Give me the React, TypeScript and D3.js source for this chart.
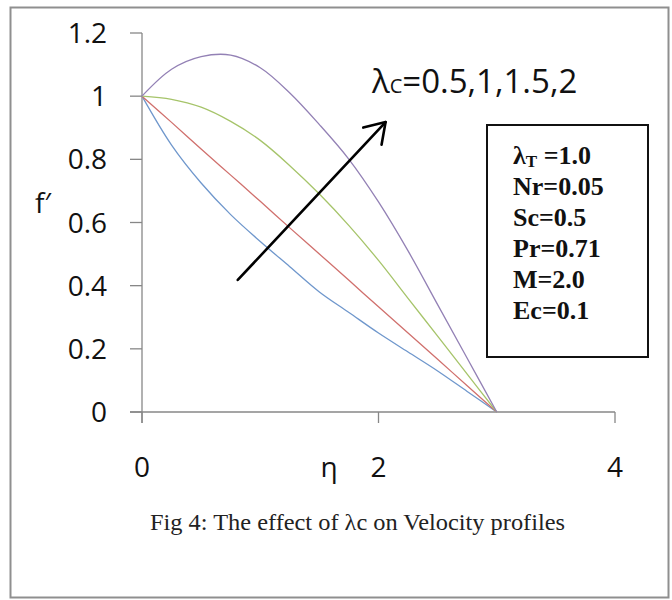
import React from "react";
import * as d3 from "d3";

// η values (shared by all series)
const eta = [0, 0.25, 0.5, 0.75, 1.0, 1.25, 1.5, 1.75, 2.0, 2.25, 2.5, 2.75, 3.0];

// f' for λc = 0.5, 1, 1.5, 2
const fLc05 = [1, 0.845, 0.725, 0.625, 0.54, 0.46, 0.38, 0.315, 0.25, 0.19, 0.13, 0.065, 0];
const fLc10 = [1, 0.917, 0.833, 0.75, 0.667, 0.583, 0.5, 0.417, 0.333, 0.25, 0.167, 0.083, 0];
const fLc15 = [1, 0.99, 0.965, 0.92, 0.86, 0.78, 0.69, 0.59, 0.48, 0.36, 0.24, 0.12, 0];
const fLc20 = [1, 1.085, 1.125, 1.13, 1.09, 1.01, 0.91, 0.8, 0.665, 0.51, 0.34, 0.17, 0];

const seriesColors = ["#6f97cc", "#d0706d", "#a6c46a", "#9381b5"];

const yTicks = [0, 0.2, 0.4, 0.6, 0.8, 1, 1.2];
const xTicks = [0, 2, 4];

const params = ["Nr=0.05", "Sc=0.5", "Pr=0.71", "M=2.0", "Ec=0.1"];

const App = () => {
  const width = 672;
  const height = 600;

  const x = d3.scaleLinear().domain([0, 4]).range([142, 615]);
  const y = d3.scaleLinear().domain([0, 1.2]).range([412, 33]);

  const series = [fLc05, fLc10, fLc15, fLc20];
  const line = d3
    .line<number>()
    .x((_, i) => x(eta[i]))
    .y((d) => y(d))
    .curve(d3.curveCatmullRom.alpha(0.5));

  const axisColor = "#878787";
  const tickFont = "'Open Sans', sans-serif";

  // arrow in data coords
  const a0 = [x(0.81), y(0.418)];
  const a1 = [x(2.06), y(0.918)];
  const ang = Math.atan2(a0[1] - a1[1], a0[0] - a1[0]);
  const headLen = 23;
  const spread = (33 * Math.PI) / 180;
  const h1 = [a1[0] + headLen * Math.cos(ang + spread), a1[1] + headLen * Math.sin(ang + spread)];
  const h2 = [a1[0] + headLen * Math.cos(ang - spread), a1[1] + headLen * Math.sin(ang - spread)];

  return (
    <svg
      width={width}
      height={height}
      style={{ position: "absolute", left: 0, top: 0, background: "#fff" }}
    >
      <rect x={10.5} y={7.5} width={658} height={590} fill="#fff" stroke="#8f8f8f" strokeWidth={2} />

      {/* y axis */}
      <line x1={x(0)} x2={x(0)} y1={y(1.2)} y2={y(0) + 11} stroke={axisColor} strokeWidth={1.3} />
      {yTicks.map((t) => (
        <g key={"y" + t}>
          <line x1={x(0) - 12} x2={x(0)} y1={y(t)} y2={y(t)} stroke={axisColor} strokeWidth={1.3} />
          <text
            x={107}
            y={y(t)}
            dy="0.36em"
            textAnchor="end"
            fontFamily={tickFont}
            fontSize={28}
            fill="#111"
          >
            {String(+t.toFixed(1))}
          </text>
        </g>
      ))}

      {/* x axis */}
      <line x1={x(0) - 12} x2={x(4)} y1={y(0)} y2={y(0)} stroke={axisColor} strokeWidth={1.3} />
      {xTicks.map((t) => (
        <g key={"x" + t}>
          <line x1={x(t)} x2={x(t)} y1={y(0)} y2={y(0) + 11} stroke={axisColor} strokeWidth={1.3} />
          <text
            x={x(t)}
            y={477}
            textAnchor="middle"
            fontFamily={tickFont}
            fontSize={28}
            fill="#111"
          >
            {t}
          </text>
        </g>
      ))}

      {/* axis titles */}
      <text x={329} y={477} textAnchor="middle" fontFamily={tickFont} fontSize={28} fill="#111">
        η
      </text>
      <text x={35} y={213} fontFamily={tickFont} fontSize={28} fill="#111">
        f′
      </text>

      {/* curves */}
      {series.map((s, i) => (
        <path key={i} d={line(s) || ""} fill="none" stroke={seriesColors[i]} strokeWidth={1.3} />
      ))}

      {/* arrow */}
      <g stroke="#000" strokeWidth={2.6} fill="none" strokeLinecap="round" strokeLinejoin="round">
        <line x1={a0[0]} y1={a0[1]} x2={a1[0]} y2={a1[1]} />
        <polyline points={`${h1[0]},${h1[1]} ${a1[0]},${a1[1]} ${h2[0]},${h2[1]}`} />
      </g>

      <text x={372} y={93} fontFamily={tickFont} fontSize={33} fill="#111">
        λ<tspan fontSize={20}>C</tspan>=0.5,1,1.5,2
      </text>

      {/* parameter box */}
      <rect x={487} y={125} width={161} height={232} fill="#fff" stroke="#111" strokeWidth={2} />
      <g fontFamily="'Liberation Serif', 'Times New Roman', serif" fontWeight="bold" fontSize={26} fill="#111">
        <text x={513} y={164}>
          λ<tspan fontSize={17} dy={3}>T</tspan>
          <tspan dy={-3}> =1.0</tspan>
        </text>
        {params.map((p, i) => (
          <text key={p} x={513} y={195 + i * 31}>
            {p}
          </text>
        ))}
      </g>

      {/* caption */}
      <text
        x={150}
        y={530}
        fontFamily="'Liberation Serif', 'Times New Roman', serif"
        fontSize={23}
        textLength={415}
        lengthAdjust="spacingAndGlyphs"
        fill="#222"
      >
        Fig 4: The effect of λc on Velocity profiles
      </text>
    </svg>
  );
};

export default App;
